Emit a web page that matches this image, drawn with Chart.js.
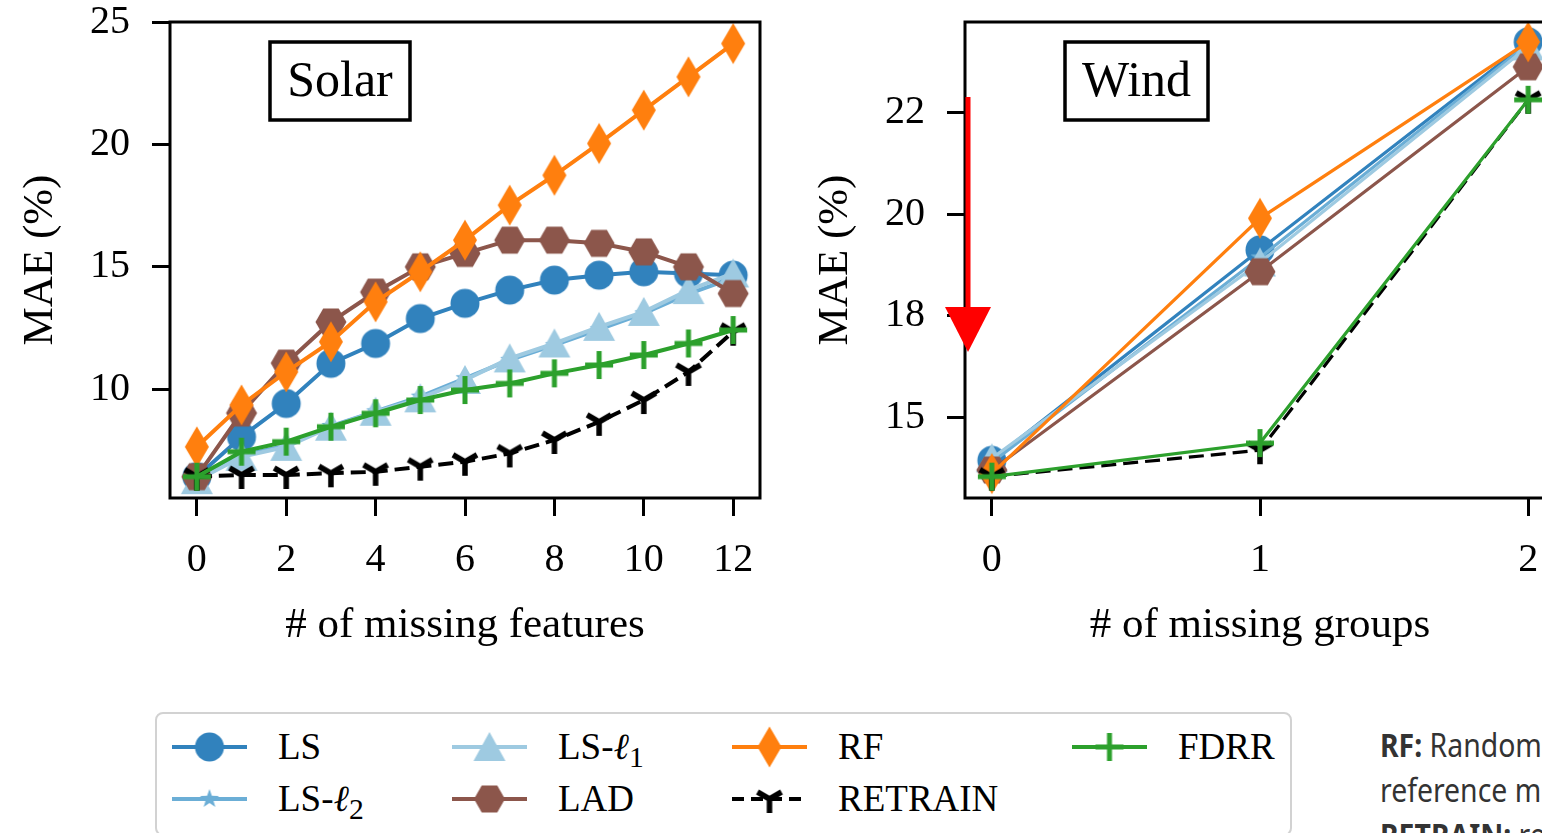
<!DOCTYPE html>
<html>
<head>
<meta charset="utf-8">
<script src="https://cdn.jsdelivr.net/npm/chart.js@4.4.1/dist/chart.umd.min.js"></script>
<style>
  html, body { margin: 0; padding: 0; background: #fff; }
  body { width: 1542px; height: 833px; overflow: hidden; position: relative; }
  #solarBox { position: absolute; left: 0; top: 0; }
  #windBox { position: absolute; left: 795px; top: 0; }
  #legend {
    position: absolute; left: 155px; top: 712px; width: 1137px; height: 124px;
    border: 2px solid #d2d2d2; border-radius: 8px; box-sizing: border-box;
    font-family: "Liberation Serif", "DejaVu Serif", serif; font-size: 37px; color: #000;
  }
  .item { position: absolute; height: 44px; }
  .item canvas { position: absolute; left: 0; top: 0; }
  .item span.lbl { position: absolute; left: 108px; top: 0; line-height: 44px; white-space: nowrap; }
  .sub { font-size: 0.8em; position: relative; top: 0.28em; }
  #caption {
    position: absolute; left: 1380px; top: 722px; white-space: nowrap;
    font-family: "Noto Sans", sans-serif; font-size: 33px; line-height: 45px; color: #333;
    transform: scaleX(0.86); transform-origin: 0 0;
  }
  #arrow { position: absolute; left: 0; top: 0; }
</style>
</head>
<body>
<canvas id="solarBox" width="780" height="680"></canvas>
<canvas id="windBox" width="780" height="680"></canvas>
<div id="legend"></div>
<div id="caption"><b>RF:</b> Random forest<br>reference model<br><b>RETRAIN:</b> retrained model</div>
<svg id="arrow" width="1542" height="833">
  <line x1="968" y1="97" x2="968" y2="312" stroke="#ff0000" stroke-width="5"/>
  <polygon points="945,307 991,307 968,352" fill="#ff0000"/>
</svg>

<script>
// ---- data ----
var seriesNames = ['LS', 'LS-ℓ2', 'LS-ℓ1', 'LAD', 'RF', 'RETRAIN', 'FDRR'];

var solarX = [0, 1, 2, 3, 4, 5, 6, 7, 8, 9, 10, 11, 12];
var solarLS      = [6.43, 8.06, 9.42, 11.06, 11.87, 12.89, 13.51, 14.05, 14.46, 14.66, 14.80, 14.73, 14.66];
var solarLSl2    = [6.35, 7.30, 7.70, 8.50, 9.10, 9.70, 10.45, 11.20, 11.80, 12.45, 13.10, 13.90, 14.55];
var solarLSl1    = [6.29, 7.24, 7.65, 8.47, 9.08, 9.63, 10.38, 11.26, 11.87, 12.55, 13.16, 14.05, 14.73];
var solarLAD     = [6.43, 9.03, 11.07, 12.75, 13.97, 15.00, 15.55, 16.09, 16.09, 15.96, 15.61, 15.00, 13.91];
var solarRF      = [7.65, 9.36, 10.71, 11.94, 13.57, 14.80, 16.09, 17.52, 18.74, 20.04, 21.40, 22.76, 24.12];
var solarRetrain = [6.43, 6.50, 6.50, 6.57, 6.63, 6.84, 7.04, 7.38, 7.93, 8.67, 9.56, 10.71, 12.35];
var solarFDRR    = [6.43, 7.45, 7.86, 8.47, 9.02, 9.56, 9.97, 10.24, 10.65, 10.99, 11.40, 11.87, 12.42];

var windX = [0, 1, 2];
var windLS      = [15.16, 19.30, 23.39];
var windLSl2    = [15.12, 19.15, 23.35];
var windLSl1    = [15.20, 19.05, 23.30];
var windLAD     = [14.97, 18.87, 22.90];
var windRF      = [14.90, 19.92, 23.39];
var windRetrain = [14.84, 15.36, 22.25];
var windFDRR    = [14.84, 15.50, 22.25];

var solarXTicks = [0, 2, 4, 6, 8, 10, 12];
var solarYTicks = [10, 15, 20, 25];
var solarYLabels = ['10', '15', '20', '25'];
var windXTicks = [0, 1, 2];
var windYTicks = [16, 18, 20, 22];
var windYLabels = ['15', '18', '20', '22'];

// ---- styles ----
var colors = ['#3182bd', '#6baed6', '#9ecae1', '#8c564b', '#ff7f0e', '#000000', '#2ca02c'];
var kinds = ['circle', 'star', 'triangle', 'hexagon', 'diamond', 'tri', 'plus'];
var serif = '"Liberation Serif", "DejaVu Serif", serif';

function marker(kind, color) {
  var c = document.createElement('canvas');
  c.width = 50; c.height = 50;
  var g = c.getContext('2d');
  var m = 25;
  g.fillStyle = color; g.strokeStyle = color; g.lineWidth = 5;
  g.beginPath();
  if (kind === 'circle') {
    g.arc(m, m, 14.5, 0, Math.PI * 2); g.fill();
  } else if (kind === 'triangle') {
    g.moveTo(m, m - 15); g.lineTo(m + 16, m + 14); g.lineTo(m - 16, m + 14); g.closePath(); g.fill();
  } else if (kind === 'diamond') {
    g.moveTo(m, m - 20.5); g.lineTo(m + 12, m); g.lineTo(m, m + 20.5); g.lineTo(m - 12, m); g.closePath(); g.fill();
  } else if (kind === 'hexagon') {
    for (var i = 0; i < 6; i++) {
      var a = Math.PI / 3 * i;
      g.lineTo(m + 15.5 * Math.cos(a), m + 15.5 * Math.sin(a));
    }
    g.closePath(); g.fill();
  } else if (kind === 'plus') {
    g.moveTo(m - 14, m); g.lineTo(m + 14, m); g.moveTo(m, m - 14); g.lineTo(m, m + 14); g.stroke();
  } else if (kind === 'tri') {
    g.lineWidth = 5.5;
    g.moveTo(m, m); g.lineTo(m, m + 14);
    g.moveTo(m, m); g.lineTo(m - 12, m - 7);
    g.moveTo(m, m); g.lineTo(m + 12, m - 7);
    g.stroke();
  } else if (kind === 'star') {
    for (var k = 0; k < 10; k++) {
      var r = k % 2 === 0 ? 10 : 4;
      var b = -Math.PI / 2 + Math.PI / 5 * k;
      g.lineTo(m + r * Math.cos(b), m + r * Math.sin(b));
    }
    g.closePath(); g.fill();
  }
  return c;
}

var markers = kinds.map(function(k, i) { return marker(k, colors[i]); });

function makeSets(xs, lists, lw) {
  return lists.map(function(vals, i) {
    return {
      label: seriesNames[i],
      data: vals.map(function(v, j) { return {x: xs[j], y: v}; }),
      borderColor: colors[i],
      backgroundColor: colors[i],
      borderWidth: lw,
      borderDash: seriesNames[i] === 'RETRAIN' ? [15, 7] : [],
      pointStyle: markers[i],
      pointRadius: 12,
      tension: 0,
      clip: 3,
      order: lists.length - i
    };
  });
}

var framePlugin = {
  id: 'frame',
  afterDraw: function(chart, args, opts) {
    var a = chart.chartArea, g = chart.ctx;
    g.save();
    g.strokeStyle = '#000';
    g.lineWidth = 3;
    g.strokeRect(a.left, a.top, a.right - a.left, a.bottom - a.top);
    g.lineWidth = 3.5;
    g.strokeRect(a.left + 100, a.top + 20, opts.w, 78);
    g.fillStyle = '#000';
    g.font = '50px ' + serif;
    g.textAlign = 'center';
    g.textBaseline = 'middle';
    g.fillText(opts.text, a.left + 100 + opts.w / 2, a.top + 61);
    g.restore();
  }
};

function makeChart(id, xs, lists, lw, xMin, xMax, yMin, yMax, xTicks, yTicks, yLabels, xTitle, boxText, boxW) {
  return new Chart(document.getElementById(id), {
    type: 'line',
    data: { datasets: makeSets(xs, lists, lw) },
    plugins: [framePlugin],
    options: {
      responsive: false,
      animation: false,
      layout: { padding: { left: 15, top: 22, right: 20, bottom: 28 } },
      plugins: {
        legend: { display: false },
        tooltip: { enabled: false },
        frame: { text: boxText, w: boxW }
      },
      scales: {
        x: {
          type: 'linear', min: xMin, max: xMax,
          afterBuildTicks: function(s) { s.ticks = xTicks.map(function(v) { return {value: v}; }); },
          afterFit: function(s) { s.height = 154; s.paddingLeft = 0; s.paddingRight = 0; },
          border: { display: false },
          grid: { drawOnChartArea: false, tickLength: 18, tickWidth: 3, tickColor: '#000' },
          ticks: { color: '#000', padding: 20, maxRotation: 0, font: { family: serif, size: 40 } },
          title: { display: true, text: xTitle, color: '#000', padding: 0, font: { family: serif, size: 43 } }
        },
        y: {
          min: yMin, max: yMax,
          afterBuildTicks: function(s) { s.ticks = yTicks.map(function(v) { return {value: v}; }); },
          afterFit: function(s) { s.width = 155; s.paddingTop = 0; s.paddingBottom = 0; },
          border: { display: false },
          grid: { drawOnChartArea: false, tickLength: 18, tickWidth: 3, tickColor: '#000' },
          ticks: {
            color: '#000', padding: 22, font: { family: serif, size: 40 },
            callback: function(v) { return yLabels[yTicks.indexOf(v)]; }
          },
          title: { display: true, text: 'MAE (%)', color: '#000', padding: 0, font: { family: serif, size: 43 } }
        }
      }
    }
  });
}

makeChart('solarBox', solarX,
  [solarLS, solarLSl2, solarLSl1, solarLAD, solarRF, solarRetrain, solarFDRR], 4,
  -0.6, 12.6, 5.56, 25, solarXTicks, solarYTicks, solarYLabels, '# of missing features', 'Solar', 140);

makeChart('windBox', windX,
  [windLS, windLSl2, windLSl1, windLAD, windRF, windRetrain, windFDRR], 3.2,
  -0.1, 2.1, 14.42, 23.78, windXTicks, windYTicks, windYLabels, '# of missing groups', 'Wind', 143);

// ---- legend (4 columns, filled column by column) ----
var legendLabels = ['LS', 'LS-<i>ℓ</i><span class="sub">2</span>', 'LS-<i>ℓ</i><span class="sub">1</span>',
  'LAD', 'RF', 'RETRAIN', 'FDRR'];
var colX = [13, 293, 573, 913];
var rowY = [11, 63];
var legend = document.getElementById('legend');
seriesNames.forEach(function(name, i) {
  var item = document.createElement('div');
  item.className = 'item';
  item.style.left = colX[Math.floor(i / 2)] + 'px';
  item.style.top = rowY[i % 2] + 'px';
  var c = document.createElement('canvas');
  c.width = 80; c.height = 44;
  var g = c.getContext('2d');
  g.strokeStyle = colors[i];
  g.lineWidth = 4;
  if (name === 'RETRAIN') g.setLineDash([12, 7]);
  g.beginPath(); g.moveTo(2, 22); g.lineTo(77, 22); g.stroke();
  g.drawImage(markers[i], 39.5 - 25, 22 - 25);
  item.appendChild(c);
  var s = document.createElement('span');
  s.className = 'lbl';
  s.innerHTML = legendLabels[i];
  item.appendChild(s);
  legend.appendChild(item);
});
</script>
</body>
</html>
